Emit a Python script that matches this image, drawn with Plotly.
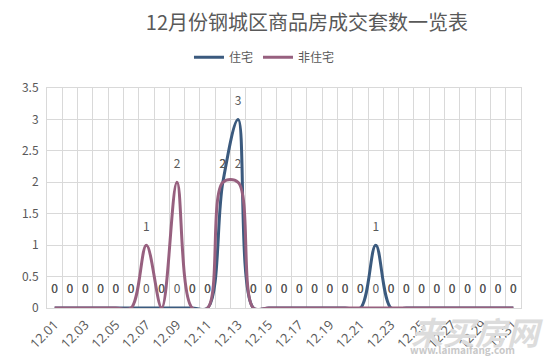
import plotly.graph_objects as go

title = "12月份钢城区商品房成交套数一览表"
dates = [f"12.{d:02d}" for d in range(1, 32)]
zhuzhai = [0, 0, 0, 0, 0, 0, 0, 0, 0, 0, 0, 2, 3, 0, 0, 0, 0, 0, 0, 0,
           0, 1, 0, 0, 0, 0, 0, 0, 0, 0, 0]
feizhuzhai = [0, 0, 0, 0, 0, 0, 1, 0, 2, 0, 0, 2, 2, 0, 0, 0, 0, 0, 0, 0,
              0, 0, 0, 0, 0, 0, 0, 0, 0, 0, 0]
tick_labels = [d if i % 2 == 0 else "" for i, d in enumerate(dates)]
y_ticks = [0, 0.5, 1, 1.5, 2, 2.5, 3, 3.5]
y_tick_text = ["0", "0.5", "1", "1.5", "2", "2.5", "3", "3.5"]

GRAY = "#595959"
FONT = "Noto Sans CJK SC, Microsoft YaHei, sans-serif"

fig = go.Figure()
for name, vals, color in [("住宅", zhuzhai, "#3B5A7E"), ("非住宅", feizhuzhai, "#97607F")]:
    fig.add_trace(go.Scatter(
        x=dates, y=vals, name=name,
        mode="lines+markers+text",
        line=dict(color=color, width=3, shape="spline", smoothing=1),
        marker=dict(size=17, color="rgba(0,0,0,0)"),
        text=[str(v) for v in vals],
        textposition="top center",
        textfont=dict(size=12, color=GRAY, family=FONT),
        cliponaxis=False,
    ))

fig.update_layout(
    width=551, height=358,
    margin=dict(l=47, r=30, t=88, b=50, autoexpand=False),
    paper_bgcolor="white", plot_bgcolor="white",
    font=dict(family=FONT, color=GRAY, size=12),
    title=dict(text=title, x=0.557, xanchor="center", y=0.935, yanchor="middle",
               font=dict(size=20, color=GRAY, family=FONT)),
    legend=dict(orientation="h", xref="container", yref="container",
                x=0.48, xanchor="center", y=0.84, yanchor="middle",
                font=dict(size=12, color=GRAY), itemwidth=30,
                bgcolor="rgba(0,0,0,0)"),
    showlegend=True,
)
fig.update_xaxes(
    type="category", range=[-0.5, 30.5], automargin=False,
    tickmode="array", tickvals=dates, ticktext=tick_labels,
    tickson="boundaries", showgrid=True, gridcolor="#D9D9D9", gridwidth=1,
    tickangle=-45, tickfont=dict(size=13, color=GRAY, family="Open Sans, sans-serif"),
    ticklabelstandoff=3,
    showline=True, linecolor="#D9D9D9", mirror=True, ticks="",
    zeroline=False,
)
fig.update_yaxes(
    range=[0, 3.5], tickvals=y_ticks, ticktext=y_tick_text, automargin=False,
    showgrid=True, gridcolor="#D9D9D9", gridwidth=1,
    tickfont=dict(size=12, color=GRAY), ticklabelstandoff=5,
    showline=True, linecolor="#D9D9D9", mirror=True, zeroline=False, ticks="",
)
fig.add_annotation(text="<b><i>来买房网</i></b>", xref="paper", yref="paper",
                   x=1.05, y=-0.105, xanchor="right", yanchor="middle", showarrow=False,
                   font=dict(size=32, color="#DCDCDC", family=FONT))
fig.add_annotation(text="<b>www.laimaifang.com</b>", xref="paper", yref="paper",
                   x=0.877, y=-0.19, xanchor="center", yanchor="middle", showarrow=False,
                   font=dict(size=10, color="#C8C8C8", family=FONT))
fig.write_html("out.html", config={"displayModeBar": False},
               post_script="document.body.style.margin='0';")
